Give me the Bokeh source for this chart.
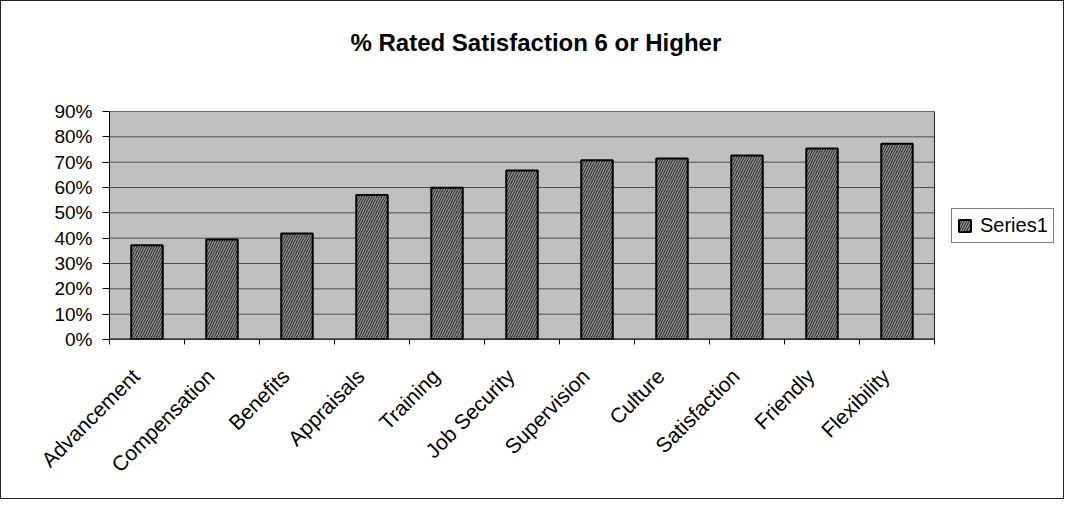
import math
from bokeh.plotting import figure
from bokeh.models import (Range1d, FixedTicker, NumeralTickFormatter, Legend, LegendItem,
                          ColumnDataSource, Title)
from bokeh.embed import file_html
from bokeh.resources import INLINE

categories = ["Advancement", "Compensation", "Benefits", "Appraisals", "Training",
              "Job Security", "Supervision", "Culture", "Satisfaction", "Friendly", "Flexibility"]
values = [0.372, 0.395, 0.418, 0.570, 0.599, 0.667, 0.708, 0.714, 0.726, 0.754, 0.773]
y_ticks = [0.0, 0.1, 0.2, 0.3, 0.4, 0.5, 0.6, 0.7, 0.8, 0.9]
series_name = "Series1"
title_text = "% Rated Satisfaction 6 or Higher"

n = len(categories)
x_pos = [i + 0.5 for i in range(n)]
bounds = list(range(n + 1))
y_top = y_ticks[-1]
src = ColumnDataSource(dict(x=x_pos, top=values, cat=categories))

FONT = "Liberation Sans"

# layout (pixels)
W, H = 1064, 499
B_LEFT, B_RIGHT, B_TOP, B_BOTTOM = 108, 4, 110, 161
PLOT_W = 825          # width of the category area in pixels
FRAME_W = W - B_LEFT - B_RIGHT
x_end = n * FRAME_W / PLOT_W
LABEL_SHIFT = 0.15    # rotated labels end slightly left of the category centre
label_pos = [x - LABEL_SHIFT for x in x_pos]

p = figure(width=W, height=H, x_range=Range1d(0, x_end), y_range=Range1d(0, y_top),
           output_backend="svg", toolbar_location=None,
           min_border_left=B_LEFT, min_border_right=B_RIGHT,
           min_border_top=B_TOP, min_border_bottom=B_BOTTOM)
p.styles = {"border": "1px solid #222"}

p.background_fill_color = "white"
p.border_fill_color = "white"
p.outline_line_color = None

# plot area background
p.quad(left=[0], right=[n], bottom=[0], top=[y_top],
       fill_color="#c0c0c0", line_color="#222222", line_width=1)

# gridlines
p.segment(x0=[0] * len(y_ticks), x1=[n] * len(y_ticks), y0=y_ticks, y1=y_ticks,
          line_color="#4c4c4c", line_width=1)

bars = p.vbar(x="x", top="top", width=0.42, source=src,
              fill_color="#363636", line_color="black", line_width=2,
              hatch_pattern="/", hatch_color="#b0b0b0", hatch_scale=5, hatch_weight=1)

# baseline (category axis line)
p.segment(x0=[0], x1=[n], y0=[0], y1=[0], line_color="black", line_width=2)

# title
p.title.text = title_text
p.title.text_font = FONT
p.title.text_font_style = "bold"
p.title.text_font_size = "24px"
p.title.text_color = "black"
p.title.align = "left"
p.title.offset = 241
p.title.standoff = 10
p.title.vertical_align = "bottom"
spacer = Title(text=" ", text_font_size="10px", standoff=38)
p.add_layout(spacer, "above")

# y axis
yax = p.yaxis[0]
yax.ticker = FixedTicker(ticks=y_ticks)
yax.formatter = NumeralTickFormatter(format="0%")
yax.major_label_text_font = FONT
yax.major_label_text_font_size = "19px"
yax.major_label_text_color = "black"
yax.axis_line_color = "black"
yax.major_tick_line_color = "black"
yax.major_tick_out = 7
yax.major_tick_in = 0
yax.minor_tick_line_color = None
yax.major_label_standoff = 10

# x axis
xax = p.xaxis[0]
xax.ticker = FixedTicker(ticks=label_pos, minor_ticks=bounds)
xax.major_label_overrides = {x: c for x, c in zip(label_pos, categories)}
xax.major_label_orientation = math.pi / 4
xax.major_label_text_font = FONT
xax.major_label_text_font_size = "21px"
xax.major_label_text_color = "black"
xax.major_tick_line_color = None
xax.major_tick_out = 0
xax.major_tick_in = 0
xax.minor_tick_line_color = "black"
xax.minor_tick_out = 5
xax.minor_tick_in = 0
xax.axis_line_color = None
xax.major_label_standoff = 28

p.grid.visible = False

# legend
legend = Legend(items=[LegendItem(label=series_name, renderers=[bars])],
                location=(842, 96))
legend.label_text_font = FONT
legend.label_text_font_size = "20px"
legend.label_text_color = "black"
legend.glyph_width = 15
legend.glyph_height = 15
legend.label_standoff = 8
legend.padding = 5
legend.spacing = 0
legend.margin = 0
legend.border_line_color = "black"
legend.border_line_width = 1
legend.background_fill_color = "white"
legend.background_fill_alpha = 1
p.add_layout(legend, "center")

open("out.html", "w").write(file_html(p, INLINE))
